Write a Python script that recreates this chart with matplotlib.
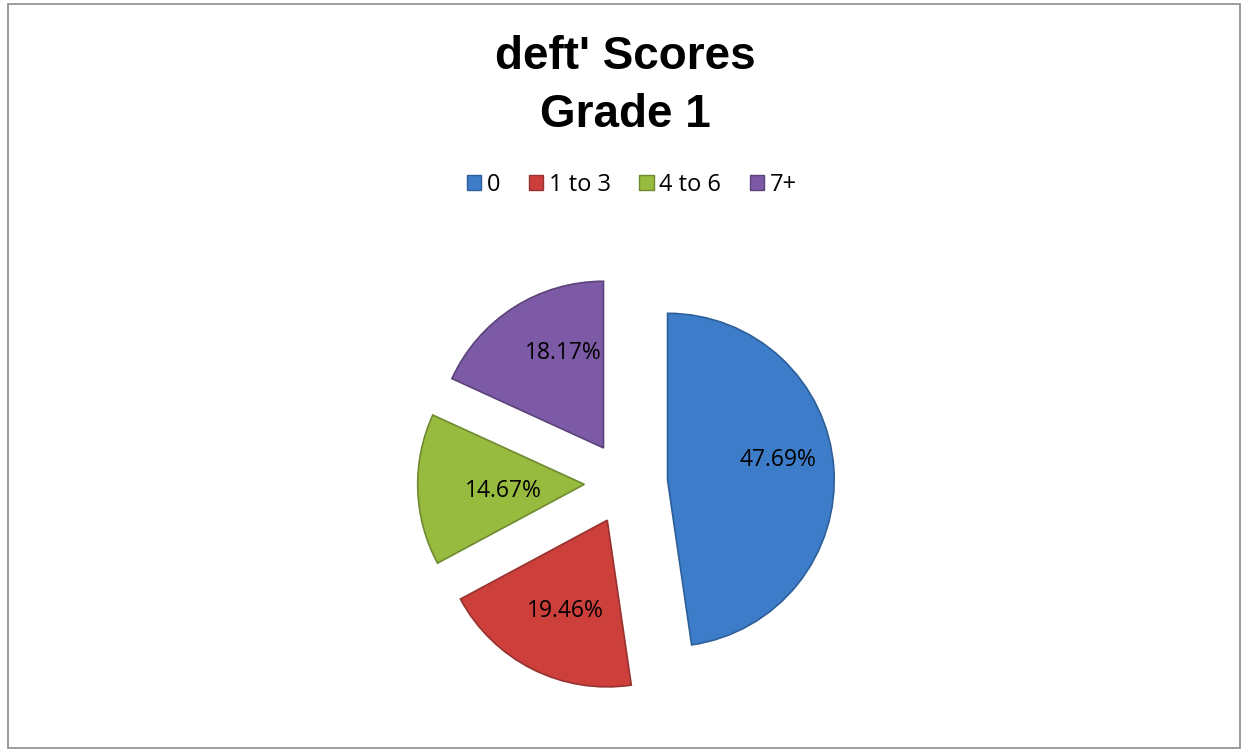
import numpy as np
import matplotlib.pyplot as plt
from matplotlib.patches import Rectangle

categories = ["0", "1 to 3", "4 to 6", "7+"]
shares = [47.69, 19.46, 14.67, 18.17]
colors = ["#3d7cc9", "#cc3f3b", "#97bb3f", "#7d5aa6"]
edges = ["#2f5f99", "#963230", "#6f8a30", "#5b4279"]
# label placement inside each wedge: radial distance and angle shift (deg)
label_dist = [0.67, 0.60, 0.49, 0.62]
label_shift = [6, 2, 3, -10]

fig = plt.figure(figsize=(12.46, 7.52), dpi=100)
W, H = 1246, 752

# chart frame
fig.patches.append(Rectangle((8 / W, 4 / H), 1232 / W, 744 / H, transform=fig.transFigure,
                             fill=False, edgecolor="#8c8c8c", linewidth=1.2))

fig.text(625 / W, 1 - 57 / H, "deft' Scores", ha="center", va="center",
         fontsize=33, fontweight="bold", family="Liberation Sans")
fig.text(625 / W, 1 - 115 / H, "Grade 1", ha="center", va="center",
         fontsize=33, fontweight="bold", family="Liberation Sans")

cx, cy, half = 626, 483, 250
ax = fig.add_axes([(cx - half) / W, (H - cy - half) / H, 2 * half / W, 2 * half / H])

wedges, _ = ax.pie(shares, colors=colors, startangle=90, counterclock=False,
                   radius=1.0, explode=[0.25] * len(shares),
                   wedgeprops=dict(linewidth=1.2))
for w, ec in zip(wedges, edges):
    w.set_edgecolor(ec)

# pie() sets its own limits, so fix them afterwards (radius 1 -> ~167 px)
ax.set_xlim(-1.5, 1.5)
ax.set_ylim(-1.5, 1.5)
ax.set_aspect("equal")
ax.axis("off")

for w, s, d, sh in zip(wedges, shares, label_dist, label_shift):
    mid = np.deg2rad((w.theta1 + w.theta2) / 2 + sh)
    x0, y0 = w.center
    ax.text(x0 + d * np.cos(mid), y0 + d * np.sin(mid), f"{s:.2f}%",
            ha="center", va="center", fontsize=16.5, family="Open Sans", color="black")

handles = [Rectangle((0, 0), 1, 1, facecolor=c, edgecolor=e) for c, e in zip(colors, edges)]
fig.legend(handles, categories, loc="center", bbox_to_anchor=(632 / W, 1 - 185 / H),
           ncol=4, frameon=False, prop=dict(family="Open Sans", size=17),
           handlelength=0.6, handleheight=0.6, handletextpad=0.25, columnspacing=1.2)

fig.savefig("out.png", dpi=100)
